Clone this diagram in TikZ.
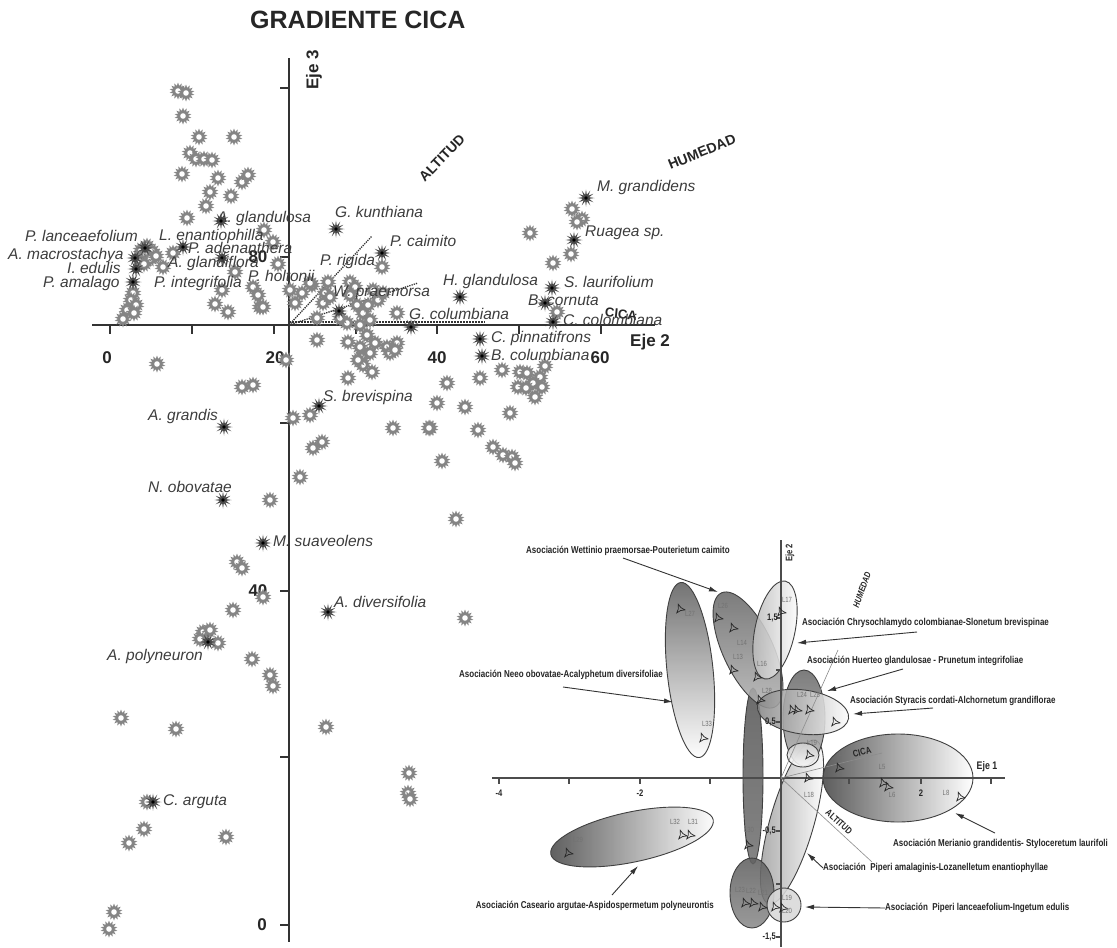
\documentclass[tikz,border=0pt]{standalone}
\usepackage{fontspec}
\setmainfont{Liberation Sans}
\newfontfamily\narrowsf[FakeStretch=0.8]{Liberation Sans}
\usetikzlibrary{shapes.geometric,arrows.meta}

\definecolor{spgray}{gray}{0.52}
\definecolor{spdark}{gray}{0.28}
\definecolor{labgray}{gray}{0.24}

\tikzset{
  sunpt/.pic={\node[star,star points=14,star point ratio=1.6,fill=spgray,inner sep=0pt,minimum size=17pt]{};
              \fill[white] (0,0) circle (2.8pt);},
  sppt/.pic={\node[star,star points=12,star point ratio=2.6,fill=spdark,inner sep=0pt,minimum size=17pt]{};
             \fill[black] (0,0) circle (1.8pt);},
  trimk/.pic={\node[star,star points=3,star point ratio=3,draw=black!85,line width=0.7pt,inner sep=0pt,minimum size=10pt,rotate=20]{};},
  splabel/.style={font=\fontsize{15.5}{18}\selectfont\itshape,text=labgray,inner sep=0pt,anchor=west},
  axnum/.style={font=\fontsize{17}{20}\selectfont\bfseries,text=black!85,inner sep=0pt},
  axisln/.style={draw=black!80,line width=1.6pt},
  asoc/.style={font=\narrowsf\bfseries\fontsize{10}{12}\selectfont,text=black!85,inner sep=0pt},
  asarrow/.style={draw=black!80,line width=0.9pt,-{Latex[length=9pt,width=5pt]}},
  llab/.style={font=\narrowsf\fontsize{7.5}{8}\selectfont,text=black!55,inner sep=0pt},
  inum/.style={font=\narrowsf\bfseries\fontsize{9.5}{10}\selectfont,text=black!85,inner sep=0pt},
  grp/.style={draw=black!75,line width=0.9pt,fill opacity=0.88},
  inaxis/.style={draw=black!70,line width=1.1pt},
  invec/.style={draw=black!45,line width=0.6pt}
}

\begin{document}
\begin{tikzpicture}[x=1pt,y=-1pt]
\useasboundingbox (0,0) rectangle (1117,948);
\fill[white] (0,0) rectangle (1117,948);

% title
\node[anchor=west,font=\fontsize{25}{28}\selectfont\bfseries,text=black!85,inner sep=0pt] (title) at (250,20) {GRADIENTE CICA};

% main axes
\draw[axisln] (92,325) -- (655,325);
\draw[axisln] (289,58) -- (289,942);
\foreach \x in {110,192,274,356,437,519,601} \draw[axisln] (\x,325) -- (\x,334);
\foreach \y in {88,257,423,591,757,925} \draw[axisln] (280,\y) -- (289,\y);

\node[axnum] (h0) at (107,358) {0};
\node[axnum] (h20) at (275,358) {20};
\node[axnum] (h40) at (437,358) {40};
\node[axnum] (h60) at (600,358) {60};
\node[axnum] (v80) at (258,257) {80};
\node[axnum] (v40) at (258,591) {40};
\node[axnum] (v0) at (262,925) {0};
\node[axnum,rotate=90] (eje3) at (314,70) {Eje 3};
\node[axnum,anchor=west] (eje2) at (630,342) {Eje 2};

% gradient vectors
\draw[black!80,densely dotted,line width=1.3pt] (289,325) -- (372,236);
\draw[black!80,densely dotted,line width=1.3pt] (289,325) -- (418,283);
\draw[black!80,densely dotted,line width=2pt] (289,322) -- (485,322);
\node[font=\fontsize{14}{16}\selectfont\bfseries,text=black!85,rotate=46] (altit) at (442,158) {ALTITUD};
\node[font=\fontsize{14}{16}\selectfont\bfseries,text=black!85,rotate=22] (humed) at (702,152) {HUMEDAD};
\node[font=\fontsize{13}{15}\selectfont\bfseries,text=black!85,rotate=-6] (cica) at (621,314) {CICA};

% species
\foreach \x/\y in {178/91,186/93,183/116,199/137,234/137,190/153,196/159,204/159,212/160,182/174,218/178,242/182,248/175,
  210/192,231/196,206/206,187/218,264/230,273/242,
  141/250,147/246,152/251,145/255,150/259,140/260,156/256,144/264,133/293,131/300,136/305,127/310,134/313,123/319,
  173/253,163/267,235/272,278/264,253/287,258/295,260/307,222/290,215/304,228/312,
  263/307,290/290,295/303,302/293,312/285,328/282,325/293,317/318,310/283,323/303,330/297,
  350/282,355/287,350/295,373/290,378/300,383/293,363/313,370/320,360/325,347/323,340/318,397/313,382/267,368/305,357/305,
  317/340,348/342,360/347,367/335,375/343,387/347,397/343,362/357,370/353,363/365,372/372,390/353,395/350,358/360,286/360,348/378,
  310/415,293/418,313/448,322/442,300/477,
  393/428,430/428,478/430,447/383,480/378,502/370,437/403,465/407,510/413,442/461,493/447,503/455,512/457,515/463,
  520/372,527/373,545/366,540/377,518/387,533/383,535/397,526/388,542/387,429/428,
  530/233,572/209,582/219,577/222,571/254,553/263,557/312,
  157/364,242/387,253/385,270/500,237/562,242/568,263/597,233/610,456/519,465/618,
  203/632,210/630,200/639,218/643,252/659,270/675,273/686,121/718,176/729,326/727,409/773,408/793,410/799,
  147/802,144/829,129/843,226/837,114/912,109/929}
  \pic at (\x,\y) {sunpt};
\foreach \x/\y in {221/221,145/248,135/258,136/269,133/282,183/247,222/258,336/229,382/253,339/311,411/327,460/297,
  586/198,574/240,552/288,545/303,553/322,480/339,482/356,319/406,224/427,223/500,263/543,328/612,208/642,153/802}
  \pic at (\x,\y) {sppt};

\node[splabel] (planc) at (25,236) {P. lanceaefolium};
\node[splabel] (amacr) at (8,255) {A. macrostachya};
\node[splabel] (iedul) at (67,268) {I. edulis};
\node[splabel] (pamal) at (43,283) {P. amalago};
\node[splabel] (lenan) at (159,236) {L. enantiophilla};
\node[splabel] (paden) at (188,248) {P. adenanthera};
\node[splabel] (aglfl) at (168,263) {A. glandiflora};
\node[splabel] (pinte) at (154,283) {P. integrifolia};
\node[splabel] (aglan) at (217,218) {A. glandulosa};
\node[splabel] (pholt) at (248,276) {P. holtonii};
\node[splabel] (prigi) at (320,261) {P. rigida};
\node[splabel] (gkunt) at (335,212) {G. kunthiana};
\node[splabel] (pcaim) at (390,241) {P. caimito};
\node[splabel] (wprae) at (333,293) {W. praemorsa};
\node[splabel] (hglan) at (443,281) {H. glandulosa};
\node[splabel] (gcolu) at (409,314) {G. columbiana};
\node[splabel] (mgran) at (597,187) {M. grandidens};
\node[splabel] (ruage) at (585,233) {Ruagea sp.};
\node[splabel] (slaur) at (564,282) {S. laurifolium};
\node[splabel] (bcorn) at (528,300) {B. cornuta};
\node[splabel] (ccolo) at (563,320) {C. colombiana};
\node[splabel] (cpinn) at (491,338) {C. pinnatifrons};
\node[splabel] (bcolu) at (491,355) {B. columbiana};
\node[splabel] (sbrev) at (323,397) {S. brevispina};
\node[splabel] (agran) at (148,416) {A. grandis};
\node[splabel] (nobov) at (148,487) {N. obovatae};
\node[splabel] (msuav) at (273,541) {M. suaveolens};
\node[splabel] (adive) at (334,602) {A. diversifolia};
\node[splabel] (apoly) at (107,656) {A. polyneuron};
\node[splabel] (cargu) at (163,802) {C. arguta};

% inset: associations
\begin{scope}[shift={(690,670)},rotate=6]
  \draw[grp,top color=black!62,bottom color=white] (0,0) ellipse [x radius=23,y radius=88];
\end{scope}
\begin{scope}[shift={(753,776)}]
  \draw[grp,top color=black!65,bottom color=black!55] (0,0) ellipse [x radius=10,y radius=88];
\end{scope}
\begin{scope}[shift={(748,650)},rotate=25]
  \draw[grp,top color=black!58,bottom color=black!30] (0,0) ellipse [x radius=25,y radius=63];
\end{scope}
\begin{scope}[shift={(775,630)},rotate=-12]
  \draw[grp,left color=black!28,right color=white] (0,0) ellipse [x radius=20,y radius=50];
\end{scope}
\begin{scope}[shift={(792,822)},rotate=-16]
  \draw[grp,left color=black!38,right color=white] (0,0) ellipse [x radius=22,y radius=85];
\end{scope}
\begin{scope}[shift={(898,778)}]
  \draw[grp,left color=black!72,right color=white] (0,0) ellipse [x radius=75,y radius=44];
\end{scope}
\begin{scope}[shift={(804,718)}]
  \draw[grp,top color=black!58,bottom color=black!30] (0,0) ellipse [x radius=21,y radius=48];
\end{scope}
\begin{scope}[shift={(803,712)},rotate=-8]
  \draw[grp,left color=black!48,right color=white] (0,0) ellipse [x radius=46,y radius=22];
\end{scope}
\begin{scope}[shift={(803,755)}]
  \draw[grp,top color=black!18,bottom color=white] (0,0) ellipse [x radius=16,y radius=12];
\end{scope}
\begin{scope}[shift={(632,837)},rotate=12]
  \draw[grp,left color=black!72,right color=white] (0,0) ellipse [x radius=83,y radius=25];
\end{scope}
\begin{scope}[shift={(752,893)}]
  \draw[grp,top color=black!62,bottom color=black!45] (0,0) ellipse [x radius=22,y radius=35];
\end{scope}
\begin{scope}[shift={(784,905)}]
  \draw[grp,fill=black!15] (0,0) circle (17);
\end{scope}

% inset axes
\draw[inaxis] (492,778) -- (1005,778);
\draw[inaxis] (781,540) -- (781,947);
\foreach \x in {499,569,640,710,849,921,991} \draw[inaxis] (\x,778) -- (\x,784);
\foreach \y in {618,670,722,831,884,937} \draw[inaxis] (776,\y) -- (781,\y);
\node[inum] (im4) at (499,793) {-4};
\node[inum] (im2) at (640,793) {-2};
\node[inum] (ip2) at (921,793) {2};
\node[inum,anchor=east] (i15) at (778,618) {1,5};
\node[inum,anchor=east] (i05) at (776,722) {0,5};
\node[inum,anchor=east] (im05) at (776,831) {-0,5};
\node[inum,anchor=east] (im15) at (776,937) {-1,5};
\node[inum,rotate=90] (ieje2) at (790,553) {Eje 2};
\node[inum,font=\narrowsf\bfseries\fontsize{11}{12}\selectfont] (ieje1) at (987,767) {Eje 1};

\draw[invec] (781,778) -- (882,753);
\draw[invec] (781,778) -- (872,862);
\draw[invec] (781,778) -- (838,650);
\node[inum,rotate=15] (icica) at (862,752) {CICA};
\node[inum,font=\narrowsf\bfseries\itshape\fontsize{9}{10}\selectfont,rotate=70] (ihume) at (862,590) {HUMEDAD};
\node[inum,rotate=-42] (ialti) at (839,822) {ALTITUD};

% sites
\foreach \x/\y in {680/609,703/738,718/618,733/628,733/670,757/677,760/700,781/612,792/710,797/710,809/710,835/722,
  809/755,808/778,839/768,883/783,888/787,960/797,568/853,682/835,690/835,748/845,745/903,753/903,762/907,775/907,783/908}
  \pic at (\x,\y) {trimk};
\foreach \x/\y/\t in {690/614/L27,707/724/L33,723/606/L26,742/643/L14,738/657/L13,762/664/L16,767/691/L28,
  787/600/L17,802/695/L24,815/695/L25,812/743/L19,809/795/L18,842/754/L7,882/767/L5,892/795/L6,946/793/L8,
  578/840/L29,675/822/L32,693/822/L31,749/830/L30,740/890/L23,751/891/L22,763/893/L21,787/898/L19,787/911/L20}
  \node[llab] at (\x,\y) {\t};

% inset labels and arrows
\node[asoc,anchor=west] (wett) at (526,551) {Asociación Wettinio praemorsae-Pouterietum caimito};
\node[asoc,anchor=east] (neeo) at (663,675) {Asociación Neeo obovatae-Acalyphetum diversifoliae};
\node[asoc,anchor=west] (chry) at (802,623) {Asociación Chrysochlamydo colombianae-Slonetum brevispinae};
\node[asoc,anchor=west] (huer) at (807,661) {Asociación Huerteo glandulosae - Prunetum integrifoliae};
\node[asoc,anchor=west] (styr) at (850,701) {Asociación Styracis cordati-Alchornetum grandiflorae};
\node[asoc,anchor=west] (meri) at (893,844) {Asociación Merianio grandidentis- Styloceretum laurifoli};
\node[asoc,anchor=west] (pama) at (823,868) {Asociación\ \ Piperi amalaginis-Lozanelletum enantiophyllae};
\node[asoc,anchor=west] (plan) at (885,908) {Asociación\ \ Piperi lanceaefolium-Ingetum edulis};
\node[asoc,anchor=east] (case) at (714,906) {Asociación Caseario argutae-Aspidospermetum polyneurontis};

\coordinate (wettTip) at (718,592);
\coordinate (neeoTip) at (673,702);
\coordinate (chryTip) at (797,643);
\coordinate (huerTip) at (827,691);
\coordinate (styrTip) at (853,714);
\coordinate (meriTip) at (955,813);
\coordinate (pamaTip) at (807,853);
\coordinate (planTip) at (805,907);
\coordinate (caseTip) at (638,866);

\draw[asarrow] (623,558) -- (wettTip);
\draw[asarrow] (563,687) -- (neeoTip);
\draw[asarrow] (917,632) -- (chryTip);
\draw[asarrow] (903,669) -- (huerTip);
\draw[asarrow] (933,708) -- (styrTip);
\draw[asarrow] (995,833) -- (meriTip);
\draw[asarrow] (pama.west) -- (pamaTip);
\draw[asarrow] (plan.west) -- (planTip);
\draw[asarrow] (612,895) -- (caseTip);
\end{tikzpicture}
\end{document}
